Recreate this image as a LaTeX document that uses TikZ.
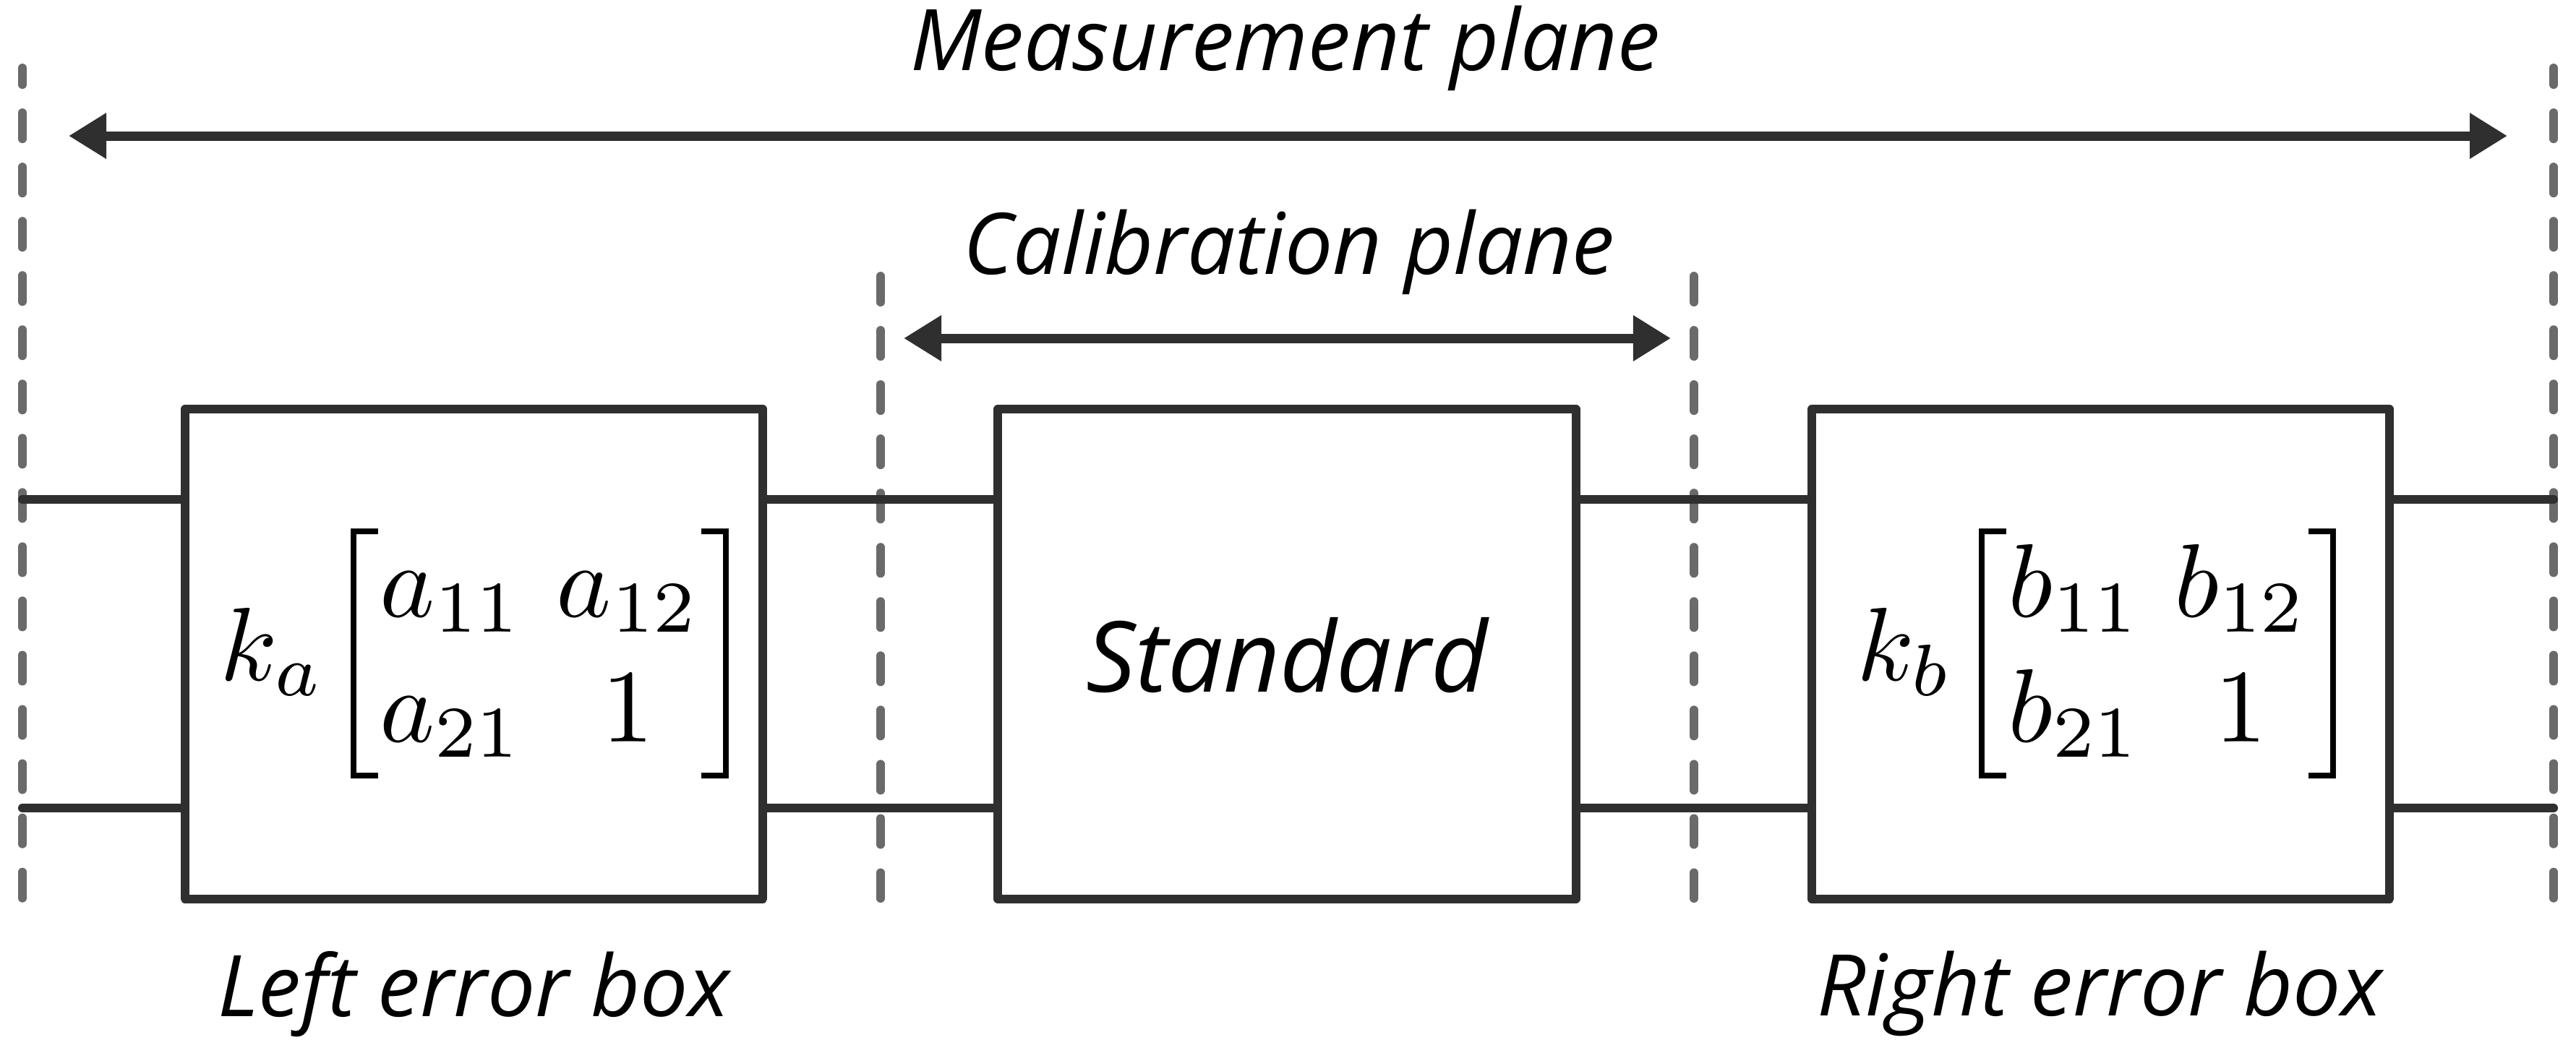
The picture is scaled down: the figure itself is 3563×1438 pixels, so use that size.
\documentclass[tikz,border=0pt]{standalone}
\usepackage{amsmath}
\usepackage{fontspec}
\setmainfont{Open Sans}
\usetikzlibrary{arrows.meta}
\definecolor{ink}{HTML}{2F2F2F}
\definecolor{dashgray}{HTML}{6A6A6A}
\tikzset{
  px/.style={x=0.01cm,y=-0.01cm},
  planeline/.style={draw=dashgray,line width=0.12cm,line cap=round,dash pattern=on 0.36cm off 0.39cm},
  wire/.style={draw=ink,line width=0.12cm,line cap=round},
  boxnode/.style={draw=ink,line width=0.12cm,line join=round,minimum width=7.99cm,minimum height=6.77cm,inner sep=0pt},
  dimarrow/.style={draw=ink,line width=0.13cm,{Triangle[length=0.52cm,width=0.6cm]}-{Triangle[length=0.52cm,width=0.6cm]}},
  lab/.style={inner sep=0pt,anchor=base,font=\fontsize{33.5}{40}\selectfont\itshape},
  stdlab/.style={inner sep=0pt,anchor=base,font=\fontsize{38.6}{46}\selectfont\itshape},
  mat/.style={inner sep=0pt,scale=4.1,transform shape,font=\fontsize{10}{12}\selectfont}
}
\begin{document}
\begin{tikzpicture}[px]
\useasboundingbox (0,0) rectangle (3563,1438);
% plane coordinates
\coordinate (mLt) at (31,94);   \coordinate (mLb) at (31,1243);
\coordinate (mRt) at (3532,94); \coordinate (mRb) at (3532,1243);
\coordinate (cLt) at (1218,382); \coordinate (cLb) at (1218,1243);
\coordinate (cRt) at (2343,382); \coordinate (cRb) at (2343,1243);
% boxes
\node[boxnode] (lbox) at (655.5,905) {};
\node[boxnode] (sbox) at (1780,905) {};
\node[boxnode] (rbox) at (2905.5,905) {};
% dashed planes
\draw[planeline,dash phase=0.13cm] (mLt) -- (mLb);
\draw[planeline,dash phase=0.13cm] (mRt) -- (mRb);
\draw[planeline] (cLt) -- (cLb);
\draw[planeline] (cRt) -- (cRb);
% wires
\coordinate (wLa) at (31,691);   \coordinate (wLb) at (31,1118);
\coordinate (wRa) at (3532,691); \coordinate (wRb) at (3532,1118);
\draw[wire] (wLa) -- (wLa -| lbox.west);
\draw[wire] (wLb) -- (wLb -| lbox.west);
\draw[wire] (wLa -| lbox.east) -- (wLa -| sbox.west);
\draw[wire] (wLb -| lbox.east) -- (wLb -| sbox.west);
\draw[wire] (wLa -| sbox.east) -- (wLa -| rbox.west);
\draw[wire] (wLb -| sbox.east) -- (wLb -| rbox.west);
\draw[wire] (wRa -| rbox.east) -- (wRa);
\draw[wire] (wRb -| rbox.east) -- (wRb);
% dimension arrows
\coordinate (mA) at (95,188);   \coordinate (mB) at (3468,188);
\coordinate (cA) at (1250,468); \coordinate (cB) at (2311,468);
\draw[dimarrow] (mA) -- (mB);
\draw[dimarrow] (cA) -- (cB);
% labels
\node[lab] (mlab) at (1778,97) {Measurement plane};
\node[lab] (clab) at (1783,379) {Calibration plane};
\node[lab] (llab) at (655,1406) {Left error box};
\node[lab] (rlab) at (2904,1405) {Right error box};
\node[stdlab] (stdtxt) at (1780,957) {Standard};
\node[mat,xshift=0.046cm] (amat) at (lbox.center) {\arraycolsep=1.6pt$k_a\mkern-3mu\begin{bmatrix} a_{11} & a_{12}\\ a_{21} & 1\end{bmatrix}$};
\node[mat,xshift=0.03cm] (bmat) at (rbox.center) {\arraycolsep=1.6pt$k_b\mkern-3mu\begin{bmatrix} b_{11} & b_{12}\\ b_{21} & 1\end{bmatrix}$};
\end{tikzpicture}
\end{document}
